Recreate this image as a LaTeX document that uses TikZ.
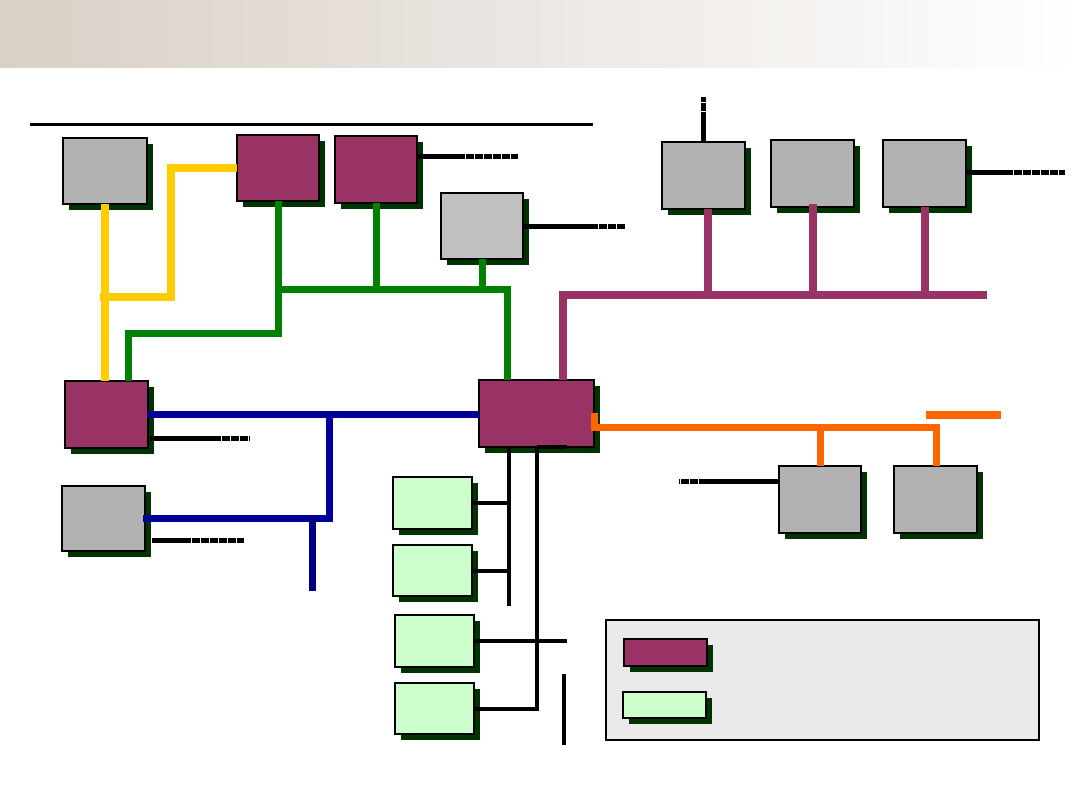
\documentclass[tikz,border=0pt]{standalone}
\usepackage{xcolor}
\usepackage{tikz}
\usetikzlibrary{shadows}
\definecolor{shd}{HTML}{003300}
\definecolor{grayb}{HTML}{B2B2B2}
\definecolor{grayl}{HTML}{C0C0C0}
\definecolor{plum}{HTML}{993366}
\definecolor{mint}{HTML}{CCFFCC}
\definecolor{pnl}{HTML}{EAEAEA}
\definecolor{hdr}{HTML}{D9D0C7}
\definecolor{yelc}{HTML}{FFCC00}
\definecolor{grnc}{HTML}{008000}
\definecolor{bluc}{HTML}{000099}
\definecolor{nvyc}{HTML}{000080}
\definecolor{orgc}{HTML}{FF6600}
\tikzset{
  sz/.style 2 args={minimum width=#1*0.25mm,minimum height=#2*0.25mm},
  bx/.style={draw,line width=0.5mm,inner sep=0pt,outer sep=0pt,
    drop shadow={shadow xshift=1.6mm,shadow yshift=-1.6mm,fill=shd,draw=none,opacity=1}},
  gbx/.style={bx,fill=grayb},
  pbx/.style={bx,fill=plum},
  lbx/.style={bx,fill=mint},
  yl/.style={yelc,line width=2mm},
  gn/.style={grnc,line width=1.75mm},
  bl/.style={bluc,line width=1.75mm},
  nv/.style={nvyc,line width=1.75mm},
  pl/.style={plum,line width=2mm},
  og/.style={orgc,line width=1.75mm},
  bk/.style={black,line width=1mm},
  sb/.style={black,line width=1.25mm},
  sd/.style={black,line width=1.25mm,dash pattern=on 1.9mm off 0.35mm}
}

\begin{document}
\begin{tikzpicture}[x=0.25mm,y=-0.25mm]
\useasboundingbox (0,0) rectangle (1080,810);
\shade[left color=hdr,right color=white] (0,0) rectangle (1080,68);
\draw[line width=0.75mm] (30,125) -- (593,125);

\node[gbx,sz={84}{66}] (g1) at (105,171) {};
\node[bx,fill=grayl,sz={82}{66}] (g2) at (482,226) {};
\node[gbx,sz={83}{67}] (g3) at (703.5,175.5) {};
\node[gbx,sz={83}{67}] (g4) at (812.5,173.5) {};
\node[gbx,sz={83}{67}] (g5) at (924.5,173.5) {};
\node[gbx,sz={83}{65}] (g6) at (103.5,518.5) {};
\node[gbx,sz={82}{67}] (g7) at (820,499.5) {};
\node[gbx,sz={83}{67}] (g8) at (935.5,499.5) {};
\node[pbx,sz={82}{66}] (p1) at (278,168) {};
\node[pbx,sz={82}{67}] (p2) at (376,169.5) {};
\node[pbx,sz={83}{67}] (p3) at (106.5,414.5) {};
\node[pbx,line width=0.65mm,sz={115}{67}] (hub) at (536.5,413.5) {};
\node[lbx,sz={79}{52}] (l1) at (432.5,503) {};
\node[lbx,sz={79}{51}] (l2) at (432.5,570.5) {};
\node[lbx,sz={79}{52}] (l3) at (434.5,641) {};
\node[lbx,sz={79}{51}] (l4) at (434.5,708.5) {};
\node[draw,line width=0.5mm,fill=pnl,inner sep=0pt,sz={433}{120}] (key) at (822.5,680) {};
\node[pbx,sz={83}{27}] (kp) at (665.5,652.5) {};
\node[lbx,sz={83}{26}] (kl) at (664.5,705) {};

\coordinate (ya) at (100,297); \coordinate (yb) at (171,297);
\draw[yl] (g1.south) -- (g1.south |- p3.north);
\draw[yl] (ya) -- (yb) |- (p1.west);

\coordinate (ga) at (128,334); \coordinate (gb) at (507,290);
\draw[gn] (p1.south) |- (ga) -- (ga |- p3.north);
\draw[gn] (p1.south |- gb) -- (gb) -- (gb |- hub.north);
\draw[gn] (p2.south) -- (p2.south |- gb);
\draw[gn] (g2.south) -- (g2.south |- gb);

\coordinate (ba) at (329,518); \coordinate (bb) at (312,591);
\draw[bl] (p3.east) -- (p3.east -| hub.west);
\draw[bl] (ba |- p3.east) -- (ba) -- ([xshift=-0.6mm]g6.east |- ba);
\draw[nv] (bb |- ba) -- (bb);

\coordinate (pa) at (563,295); \coordinate (pb) at (987,295);
\draw[pl] (pa |- hub.north) -- (pa) -- (pb);
\draw[pl] ([xshift=1mm]g3.south) -- ([xshift=1mm]g3.south |- pa);
\draw[pl] ([yshift=0.8mm]g4.south) -- (g4.south |- pa);
\draw[pl] (g5.south) -- (g5.south |- pa);

\coordinate (oa) at (936,427); \coordinate (ob) at (926,415); \coordinate (oc) at (1001,415);
\draw[og] (hub.east) |- (oa) -- (oa |- g8.north);
\draw[og] (g7.north |- oa) -- (g7.north);
\draw[og] (ob) -- (oc);

\coordinate (ka) at (509,606); \coordinate (kc) at (567,640);
\coordinate (kd) at (564,674); \coordinate (ke) at (564,745);
\draw[bk] (ka |- hub.south) -- (ka);
\draw[bk] (l1.east) -- (l1.east -| ka);
\draw[bk] (l2.east) -- (l2.east -| ka);
\draw[bk] (hub.south) |- (l4.east);
\draw[bk] (hub.south) -- ++(30,0);
\draw[bk] (l3.east) -- (l3.east -| kc);
\draw[bk] (kd) -- (ke);

\coordinate (s1) at (457,157); \coordinate (t1) at (518,157);
\coordinate (s2) at (590,227); \coordinate (t2) at (625,227);
\coordinate (s3) at (703.5,120); \coordinate (t3) at (703.5,97);
\coordinate (s4) at (1005,173); \coordinate (t4) at (1065,173);
\coordinate (s5) at (213,438); \coordinate (t5) at (250,438);
\coordinate (s6) at (183,540); \coordinate (t6) at (244,540);
\coordinate (s7) at (707,481); \coordinate (t7) at (679,481);
\draw[sb] (p2.east |- s1) -- (s1); \draw[sd] (s1) -- (t1);
\draw[sb] (g2.east |- s2) -- (s2); \draw[sd] (s2) -- (t2);
\draw[sb] (g3.north) -- (s3); \draw[sd] (s3) -- (t3);
\draw[sb] (g5.east |- s4) -- (s4); \draw[sd] (s4) -- (t4);
\draw[sb] ([xshift=0.5mm]p3.east |- s5) -- (s5); \draw[sd] (s5) -- (t5);
\draw[sb] ([xshift=1.7mm]g6.east |- s6) -- (s6); \draw[sd] (s6) -- (t6);
\draw[sb] (g7.west |- s7) -- (s7); \draw[sd] (s7) -- (t7);
\end{tikzpicture}
\end{document}
